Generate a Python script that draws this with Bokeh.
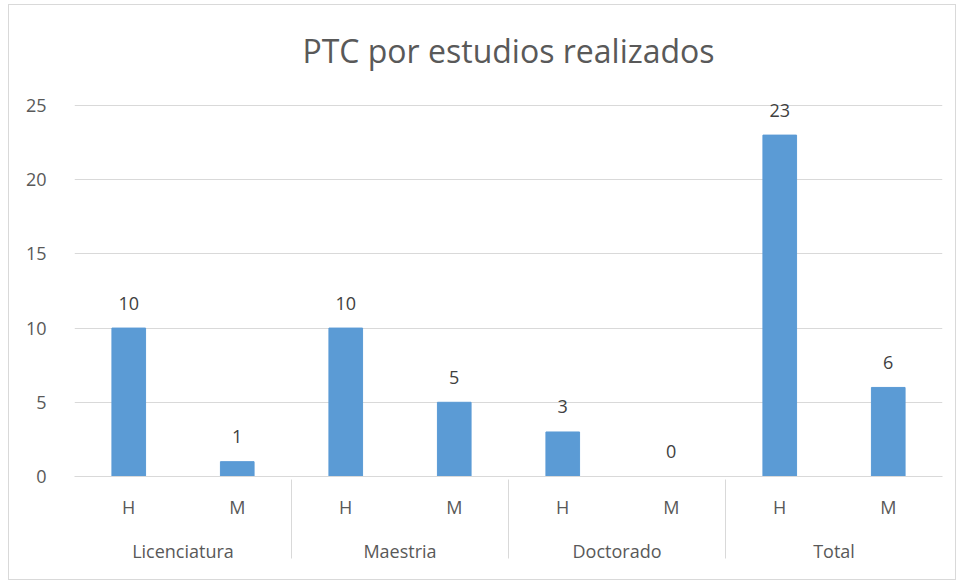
from bokeh.plotting import figure
from bokeh.models import FactorRange, ColumnDataSource, LabelSet, FixedTicker, CategoricalAxis
from bokeh.core.properties import value
from bokeh.embed import file_html
from bokeh.resources import INLINE

groups = ["Licenciatura", "Maestria", "Doctorado", "Total"]
sexes = ["H", "M"]
values = [10, 1, 10, 5, 3, 0, 23, 6]
y_ticks = [0, 5, 10, 15, 20, 25]
title = "PTC por estudios realizados"

factors = [(g, s) for g in groups for s in sexes]
src = ColumnDataSource(dict(x=factors, v=values, lab=[str(v) for v in values]))

FONT = "Open Sans"
TXT = "#595959"
FS = "18px"

xr = FactorRange(*factors, group_padding=0, subgroup_padding=0, factor_padding=0, range_padding=0)
p = figure(x_range=xr, y_range=(0, 25.6), width=948, height=576,
           output_backend="svg", toolbar_location=None, x_axis_location=None,
           min_border_left=65, min_border_right=15, min_border_top=91, min_border_bottom=105)

p.vbar(x="x", top="v", width=0.31, source=src, color="#5B9BD5")
p.add_layout(LabelSet(x="x", y="v", text="lab", source=src, text_align="center",
                      text_baseline="middle", y_offset=25, text_font=value(FONT),
                      text_font_size=FS, text_color="#404040"))

p.title.text = title
p.title.align = "center"
p.title.vertical_align = "top"
p.title.text_font = FONT
p.title.text_font_size = "32px"
p.title.text_font_style = "normal"
p.title.text_color = TXT
p.title.standoff = 45

xa = CategoricalAxis()
xa.axis_line_color = "#d9d9d9"
xa.major_tick_line_color = None
xa.minor_tick_line_color = None
xa.major_tick_out = 1
xa.major_label_text_font = FONT
xa.major_label_text_font_size = FS
xa.major_label_text_color = TXT
xa.major_label_standoff = 17
xa.group_text_font = FONT
xa.group_text_font_size = FS
xa.group_text_color = TXT
xa.group_text_font_style = "normal"
xa.group_label_orientation = "horizontal"
xa.separator_line_color = "#d9d9d9"
xa.separator_line_width = 1
p.add_layout(xa, "below")

p.yaxis.ticker = FixedTicker(ticks=y_ticks)
p.yaxis.axis_line_color = None
p.yaxis.major_tick_line_color = None
p.yaxis.minor_tick_line_color = None
p.yaxis.major_label_text_font = FONT
p.yaxis.major_label_text_font_size = FS
p.yaxis.major_label_text_color = TXT
p.yaxis.major_label_standoff = 22

p.xgrid.grid_line_color = None
p.ygrid.grid_line_color = "#d9d9d9"
p.ygrid.ticker = FixedTicker(ticks=y_ticks)
p.outline_line_color = None
p.styles = {"border": "1px solid #d9d9d9", "margin-left": "8px", "margin-top": "4px"}

open("out.html", "w").write(file_html(p, INLINE))
